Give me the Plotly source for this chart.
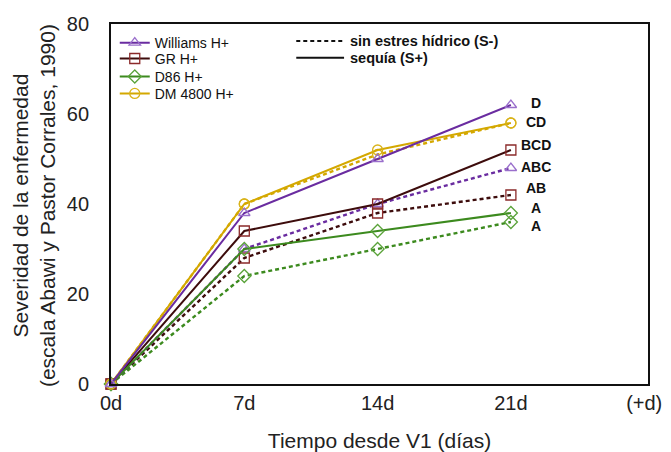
import plotly.graph_objects as go

# Days since V1 and tick labels
days = [0, 7, 14, 21]
tick_vals = [0, 7, 14, 21, 28]
tick_text = ["0d", "7d", "14d", "21d", "(+d)"]

# Disease severity, drought (S+)
williams_s_plus = [0, 38, 50, 62]
gr_s_plus = [0, 34, 40, 52]
d86_s_plus = [0, 30, 34, 38]
dm4800_s_plus = [0, 40, 52, 58]

# Disease severity, no water stress (S-)
williams_s_minus = [0, 30, 40, 48]
gr_s_minus = [0, 28, 38, 42]
d86_s_minus = [0, 24, 30, 36]
dm4800_s_minus = [0, 40, 51, 58]

# Significance letters at 21d
letters = ["D", "CD", "BCD", "ABC", "AB", "A", "A"]
letter_y = [62.5, 58.3, 53.1, 48.2, 43.6, 39.2, 35.1]

FONT = "Liberation Sans, Arial, Helvetica, sans-serif"

series = [
    # name, S+ values, S- values, line colour, marker colour, symbol
    ("GR H+", gr_s_plus, gr_s_minus, "#3d0c0c", "#8b2a2a", "square-open"),
    ("D86 H+", d86_s_plus, d86_s_minus, "#3c8a1e", "#5aa33a", "diamond-open"),
    ("DM 4800 H+", dm4800_s_plus, dm4800_s_minus, "#d4a800", "#d9b31a", "circle-open"),
    ("Williams H+", williams_s_plus, williams_s_minus, "#6a2ca0", "#9a6fcc", "triangle-up-open"),
]
# one single-entry legend per cultivar so the rows sit tightly stacked
legend_slot = {"Williams H+": ("legend", 0.947), "GR H+": ("legend2", 0.903),
               "D86 H+": ("legend3", 0.853), "DM 4800 H+": ("legend4", 0.806)}

fig = go.Figure()

for name, s_plus, s_minus, lc, mc, sym in series:
    fig.add_trace(go.Scatter(
        x=days, y=s_minus, mode="lines+markers", showlegend=False,
        line=dict(color=lc, width=2.4, dash="4px,3px"),
        marker=dict(symbol=sym, size=10, color=mc, line=dict(width=1.3, color=mc)),
        cliponaxis=False,
    ))
for name, s_plus, s_minus, lc, mc, sym in series:
    fig.add_trace(go.Scatter(
        x=days, y=s_plus, mode="lines+markers", name=name,
        legend=legend_slot[name][0],
        line=dict(color=lc, width=2),
        marker=dict(symbol=sym, size=10, color=mc, line=dict(width=1.3, color=mc)),
        cliponaxis=False,
    ))

# Line style key (dashed = no water stress, solid = drought)
style_key = [("sin estres hídrico (S-)", "4px,3px", 0.953), ("sequía (S+)", "solid", 0.906)]
for label, dash, ky in style_key:
    fig.add_shape(
        type="line", xref="paper", yref="paper",
        x0=0.345, x1=0.434, y0=ky, y1=ky,
        line=dict(color="#111111", width=2, dash=dash),
    )
    fig.add_annotation(
        xref="paper", yref="paper", x=0.441, y=ky, text=label,
        showarrow=False, xanchor="left", yanchor="middle",
        font=dict(family=FONT, size=14.5, color="#111111", weight="bold"),
    )

for txt, yv in zip(letters, letter_y):
    fig.add_annotation(
        x=21, y=yv, text=txt, showarrow=False, xanchor="center", xshift=25,
        font=dict(family=FONT, size=14, color="#111111", weight="bold"),
    )

# Y-axis title, two lines, rotated
fig.add_annotation(
    xref="paper", yref="paper", x=-0.1434, y=0.497,
    text="Severidad de la enfermedad<br>(escala Abawi y Pastor Corrales, 1990)",
    textangle=-90, showarrow=False, xanchor="center", yanchor="middle",
    font=dict(family=FONT, size=21, color="#222222"),
)

legend_common = dict(
    x=0.007, xanchor="left", yanchor="middle",
    font=dict(family=FONT, size=14, color="#111111"),
    itemwidth=30, bgcolor="rgba(0,0,0,0)",
)
layout_legends = {key: dict(legend_common, y=ly) for key, ly in legend_slot.values()}

fig.update_layout(
    width=671, height=452,
    margin=dict(l=111, r=23, t=24, b=68),
    paper_bgcolor="white", plot_bgcolor="white",
    font=dict(family=FONT, color="#222222"),
    **layout_legends,
    xaxis=dict(
        range=[0, 28.2], tickvals=tick_vals, ticktext=tick_text,
        showgrid=False, zeroline=False, ticks="", automargin=False,
        showline=True, linecolor="#111111", linewidth=1.8, mirror=True,
        tickfont=dict(family=FONT, size=20, color="#222222"),
        title=dict(text="Tiempo desde V1 (días)", standoff=20,
                   font=dict(family=FONT, size=21, color="#222222")),
    ),
    yaxis=dict(
        range=[0, 80], tickvals=[0, 20, 40, 60, 80],
        showgrid=False, zeroline=False, ticks="", ticklabelstandoff=16,
        automargin=False,
        showline=True, linecolor="#111111", linewidth=1.8, mirror=True,
        tickfont=dict(family=FONT, size=20, color="#222222"),
    ),
)

fig.write_html("out.html")
